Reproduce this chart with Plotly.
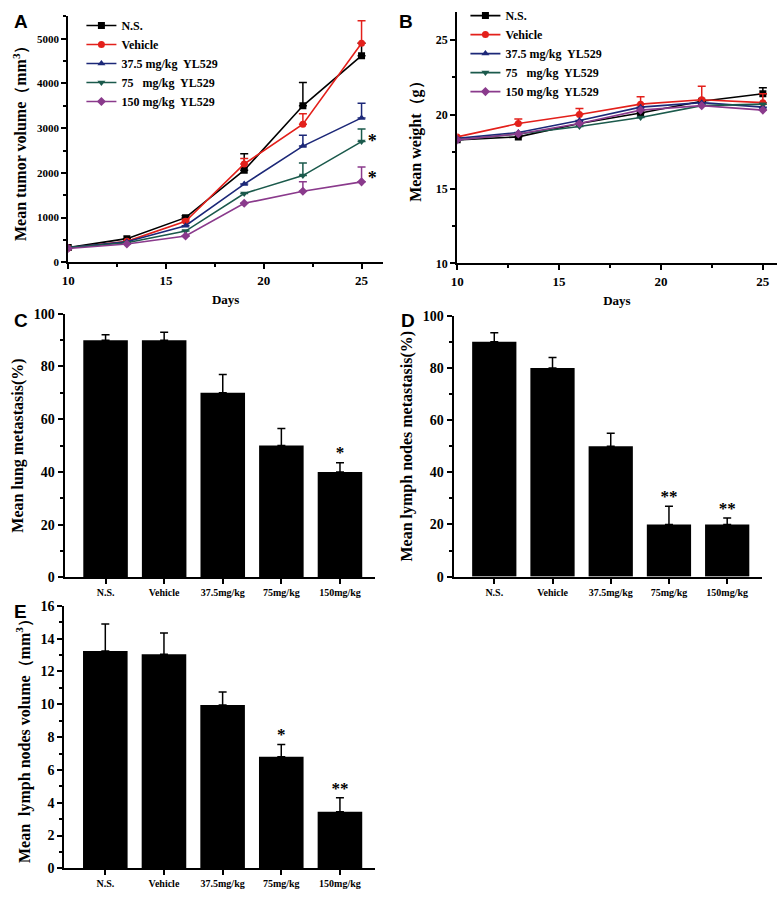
import plotly.graph_objects as go

W, H = 778, 898

# ---------------- data ----------------
days = [10, 13, 16, 19, 22, 25]
series_names = ["N.S.", "Vehicle", "37.5 mg/kg  YL529", "75   mg/kg  YL529", "150 mg/kg  YL529"]
series_colors = ["#000000", "#e3201b", "#1c2878", "#1b5a4c", "#8a3a8c"]
series_symbols = ["square", "circle", "triangle-up", "triangle-down", "diamond"]

tumor_ns = [330, 530, 1000, 2060, 3500, 4620]
tumor_veh = [320, 470, 920, 2200, 3090, 4900]
tumor_375 = [330, 460, 820, 1750, 2600, 3230]
tumor_75 = [330, 440, 700, 1540, 1940, 2700]
tumor_150 = [310, 410, 590, 1320, 1590, 1800]
tumor_err_ns = [0, 0, 40, 370, 520, 280]
tumor_err_veh = [0, 0, 40, 120, 230, 500]
tumor_err_375 = [0, 0, 0, 0, 240, 330]
tumor_err_75 = [0, 0, 0, 0, 280, 280]
tumor_err_150 = [0, 0, 0, 0, 210, 330]

weight_ns = [18.3, 18.5, 19.4, 20.1, 20.9, 21.4]
weight_veh = [18.5, 19.4, 20.0, 20.7, 21.0, 20.8]
weight_375 = [18.4, 18.8, 19.6, 20.5, 20.8, 20.5]
weight_75 = [18.3, 18.7, 19.2, 19.8, 20.6, 20.7]
weight_150 = [18.3, 18.7, 19.4, 20.3, 20.6, 20.3]
weight_err_ns = [0, 0, 0, 0, 0, 0.4]
weight_err_veh = [0, 0.3, 0.4, 0.5, 0.9, 0.6]
weight_err_375 = [0, 0, 0, 0, 0, 0]
weight_err_75 = [0, 0, 0, 0, 0, 0]
weight_err_150 = [0, 0, 0, 0, 0, 0]

groups = ["N.S.", "Vehicle", "37.5mg/kg", "75mg/kg", "150mg/kg"]
lung_meta = [90, 90, 70, 50, 40]
lung_meta_err = [2, 3, 7, 6.5, 3.5]
lung_stars = ["", "", "", "", "*"]
lymph_meta = [90, 80, 50, 20, 20]
lymph_meta_err = [3.5, 4, 5, 7, 2.5]
lymph_stars = ["", "", "", "**", "**"]
lymph_vol = [13.25, 13.05, 9.95, 6.8, 3.45]
lymph_vol_err = [1.65, 1.3, 0.8, 0.75, 0.85]
vol_stars = ["", "", "", "*", "**"]

tumor_stars_y = [2680, 1850]
tumor_stars_x = [25.55, 25.55]

# ---------------- figure ----------------
fig = go.Figure()
serif = "Liberation Serif"


def dom_x(a, b):
    return [a / W, b / W]


def dom_y(top, bottom):
    return [1 - bottom / H, 1 - top / H]


tumor = [tumor_ns, tumor_veh, tumor_375, tumor_75, tumor_150]
tumor_err = [tumor_err_ns, tumor_err_veh, tumor_err_375, tumor_err_75, tumor_err_150]
weight = [weight_ns, weight_veh, weight_375, weight_75, weight_150]
weight_err = [weight_err_ns, weight_err_veh, weight_err_375, weight_err_75, weight_err_150]

for i in range(5):
    fig.add_trace(go.Scatter(
        x=days, y=tumor[i], name=series_names[i], mode="lines+markers",
        line=dict(color=series_colors[i], width=1.6),
        marker=dict(symbol=series_symbols[i], size=7, color=series_colors[i]),
        error_y=dict(type="data", array=tumor_err[i], arrayminus=[0] * 6, symmetric=False,
                     color=series_colors[i], thickness=1.5, width=4),
        xaxis="x", yaxis="y", legend="legend", legendrank=i,
    ))
for i in range(5):
    fig.add_trace(go.Scatter(
        x=days, y=weight[i], name=series_names[i], mode="lines+markers",
        line=dict(color=series_colors[i], width=1.6),
        marker=dict(symbol=series_symbols[i], size=7, color=series_colors[i]),
        error_y=dict(type="data", array=weight_err[i], arrayminus=[0] * 6, symmetric=False,
                     color=series_colors[i], thickness=1.5, width=4),
        xaxis="x2", yaxis="y2", legend="legend2", legendrank=i,
    ))

fig.add_trace(go.Scatter(x=tumor_stars_x, y=tumor_stars_y, mode="text", text=["*", "*"],
                         textfont=dict(family=serif, size=18, color="black", weight="bold"),
                         showlegend=False, xaxis="x", yaxis="y", hoverinfo="skip"))

bar_sets = [(lung_meta, lung_meta_err, lung_stars, "x3", "y3"),
            (lymph_meta, lymph_meta_err, lymph_stars, "x4", "y4"),
            (lymph_vol, lymph_vol_err, vol_stars, "x5", "y5")]
for vals, errs, stars, xa, ya in bar_sets:
    fig.add_trace(go.Bar(
        x=groups, y=vals, marker=dict(color="black", line=dict(width=0)), width=0.76,
        error_y=dict(type="data", array=errs, arrayminus=[0] * 5, symmetric=False,
                     color="black", thickness=1.5, width=4),
        showlegend=False, xaxis=xa, yaxis=ya,
    ))
    sx = [g for g, s in zip(groups, stars) if s]
    sy = [v + e for v, e, s in zip(vals, errs, stars) if s]
    st = [s for s in stars if s]
    fig.add_trace(go.Scatter(x=sx, y=sy, mode="text", text=st, textposition="top center",
                             textfont=dict(family=serif, size=17, color="black", weight="bold"),
                             showlegend=False, xaxis=xa, yaxis=ya, hoverinfo="skip"))

axis_common = dict(showline=True, linecolor="black", linewidth=2, ticks="outside",
                   ticklen=5, tickwidth=1.5, tickcolor="black", showgrid=False, zeroline=False,
                   mirror=False)
tf_small = dict(family=serif, size=11, color="black", weight="bold")
tf_big = dict(family=serif, size=14, color="black", weight="bold")
title_font = dict(family=serif, size=16, color="black", weight="bold")
days_font = dict(family=serif, size=13, color="black", weight="bold")
minor = dict(ticks="outside", ticklen=3, tickwidth=1.5, tickcolor="black", showgrid=False)
xt_font = dict(family=serif, size=13, color="black", weight="bold")
cat_font = dict(family=serif, size=10, color="black", weight="bold")

fig.update_layout(
    width=W, height=H, margin=dict(l=0, r=0, t=0, b=0),
    paper_bgcolor="white", plot_bgcolor="white",
    xaxis=dict(domain=dom_x(62.7, 380), anchor="y", range=[10, 26.1], tickvals=[10, 15, 20, 25],
               minor=dict(dtick=2.5, tick0=10, **minor), tickfont=xt_font,
               title=dict(text="Days", font=days_font, standoff=8), **axis_common),
    yaxis=dict(domain=dom_y(9.3, 259.7), anchor="x", range=[0, 5505], tickvals=[0, 1000, 2000, 3000, 4000, 5000],
               minor=dict(dtick=500, tick0=0, **minor), tickfont=tf_small,
               title=dict(text="Mean tumor volume（mm<sup>3</sup>）", font=title_font, standoff=6), **axis_common),
    xaxis2=dict(domain=dom_x(454.7, 776.7), anchor="y2", range=[10, 25.68], tickvals=[10, 15, 20, 25],
                minor=dict(dtick=2.5, tick0=10, **minor), tickfont=xt_font,
                title=dict(text="Days", font=days_font, standoff=8), **axis_common),
    yaxis2=dict(domain=dom_y(5, 260.7), anchor="x2", range=[10, 26.9], tickvals=[10, 15, 20, 25],
                minor=dict(dtick=2.5, tick0=10, **minor), tickfont=dict(family=serif, size=12, color="black", weight="bold"),
                title=dict(text="Mean weight（g）", font=title_font, standoff=10), **axis_common),
    xaxis3=dict(domain=dom_x(59, 372), anchor="y3", range=[-0.7, 4.6], tickfont=cat_font, **axis_common),
    yaxis3=dict(domain=dom_y(312, 580), anchor="x3", range=[0, 100], tickvals=[0, 20, 40, 60, 80, 100],
                minor=dict(dtick=10, tick0=0, **minor), tickfont=tf_big,
                title=dict(text="Mean lung metastasis(%)", font=title_font, standoff=6), **axis_common),
    xaxis4=dict(domain=dom_x(451, 762), anchor="y4", range=[-0.7, 4.6], tickfont=cat_font, **axis_common),
    yaxis4=dict(domain=dom_y(314, 579.3), anchor="x4", range=[0, 100], tickvals=[0, 20, 40, 60, 80, 100],
                minor=dict(dtick=10, tick0=0, **minor), tickfont=tf_big,
                title=dict(text="Mean lymph nodes metastasis(%)", font=title_font, standoff=6), **axis_common),
    xaxis5=dict(domain=dom_x(58.7, 372), anchor="y5", range=[-0.7, 4.6], tickfont=cat_font, **axis_common),
    yaxis5=dict(domain=dom_y(609, 876), anchor="x5", range=[0, 16], tickvals=[0, 2, 4, 6, 8, 10, 12, 14, 16],
                minor=dict(dtick=1, tick0=0, **minor), tickfont=tf_big,
                title=dict(text="Mean  lymph nodes volume（mm<sup>3</sup>）", font=title_font, standoff=6), **axis_common),
    legend=dict(x=76 / W, y=1 - 4 / H, xanchor="left", yanchor="top", bgcolor="rgba(0,0,0,0)",
                font=dict(family=serif, size=12, color="black", weight="bold"), tracegroupgap=0,
                itemwidth=30, traceorder="normal"),
    legend2=dict(x=463 / W, y=1 + 6 / H, xanchor="left", yanchor="top", bgcolor="rgba(0,0,0,0)",
                 font=dict(family=serif, size=12, color="black", weight="bold"), tracegroupgap=0,
                 itemwidth=30, traceorder="normal"),
)

letter_font = dict(family="Liberation Sans", size=19, color="black", weight="bold")
for txt, px, py in [("A", 6, 2), ("B", 394, 2), ("C", 6, 306), ("D", 396, 306), ("E", 6, 602)]:
    fig.add_annotation(text=txt, x=px / W, y=1 - py / H, xref="paper", yref="paper",
                       xanchor="left", yanchor="top", showarrow=False, font=letter_font)

fig.write_html("out.html", config={"displayModeBar": False},
               post_script="document.body.style.margin='0px';document.body.style.overflow='hidden';")
